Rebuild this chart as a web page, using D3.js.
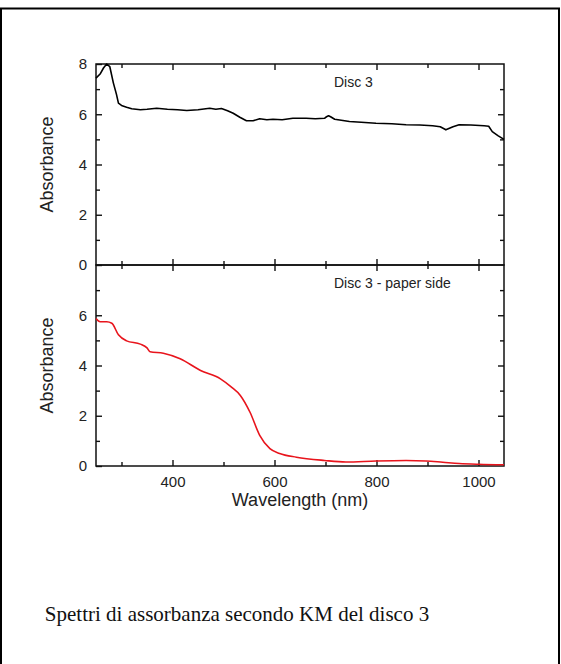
<!DOCTYPE html>
<html>
<head>
<meta charset="utf-8">
<script src="https://cdn.jsdelivr.net/npm/d3@7"></script>
<style>
  body { margin: 0; background: #fff; }
  svg { display: block; }
</style>
</head>
<body>
<div id="chart"></div>
<script>
// Data
const discWl = [250, 258, 265, 271, 277, 284, 290, 294, 300, 310, 320, 337, 350, 369, 390, 410, 428, 450, 473, 485, 496, 508, 519, 532, 545, 558, 571, 585, 597, 615, 636, 662, 680, 698, 702, 706, 710, 718, 747, 770, 799, 830, 858, 885, 910, 925, 936, 950, 962, 985, 1011, 1020, 1027, 1038, 1050];
const discAbs = [7.44, 7.6, 7.85, 8.0, 7.9, 7.25, 6.8, 6.44, 6.35, 6.28, 6.22, 6.18, 6.2, 6.24, 6.2, 6.18, 6.15, 6.18, 6.24, 6.2, 6.23, 6.14, 6.04, 5.88, 5.74, 5.74, 5.82, 5.78, 5.8, 5.78, 5.84, 5.84, 5.82, 5.84, 5.9, 5.94, 5.9, 5.8, 5.71, 5.68, 5.64, 5.62, 5.58, 5.57, 5.54, 5.5, 5.38, 5.5, 5.58, 5.57, 5.54, 5.52, 5.31, 5.15, 5.0];

const paperWl = [250, 258, 271, 281, 294, 310, 337, 350, 356, 382, 415, 455, 494, 515, 533, 552, 571, 591, 610, 643, 698, 740, 799, 858, 897, 930, 962, 1000, 1050];
const paperAbs = [5.87, 5.74, 5.74, 5.68, 5.22, 4.98, 4.85, 4.7, 4.55, 4.49, 4.27, 3.8, 3.47, 3.15, 2.81, 2.14, 1.22, 0.69, 0.5, 0.35, 0.22, 0.16, 0.2, 0.22, 0.2, 0.15, 0.1, 0.07, 0.05];

const xMajor = [400, 600, 800, 1000];
const xMinor = [300, 500, 700, 900];
const yMajorTop = [0, 2, 4, 6, 8];
const yMajorBottom = [0, 2, 4, 6];
const yMinor = [1, 3, 5, 7];

const panels = [
  { label: "Disc 3", wl: discWl, abs: discAbs, color: "#000", yLabels: yMajorTop },
  { label: "Disc 3 - paper side", wl: paperWl, abs: paperAbs, color: "#e8141c", yLabels: yMajorBottom },
];

var W = 561, H = 664;
var left = 96, right = 504, top0 = 64, panelH = 201;
var sans = "'Liberation Sans', Arial, sans-serif";

var svg = d3.select("#chart").append("svg").attr("width", W).attr("height", H);

// outer frame
svg.append("rect")
  .attr("x", 1).attr("y", 8.5)
  .attr("width", 558).attr("height", 700)
  .attr("fill", "none").attr("stroke", "#000").attr("stroke-width", 2);

var x = d3.scaleLinear().domain([250, 1050]).range([left, right]);

function styleAxis(g) {
  g.select(".domain").remove();
  g.selectAll(".tick line").attr("stroke", "#111").attr("stroke-width", 1.4);
  g.selectAll("text").attr("fill", "#222")
    .style("font-family", sans)
    .style("font-size", "15px");
}

panels.forEach(function (p, i) {
  var y0 = top0 + i * panelH;
  var y = d3.scaleLinear().domain([0, 8]).range([y0 + panelH, y0]);
  var g = svg.append("g");

  // minor ticks
  g.append("g").attr("transform", `translate(${left},0)`)
    .call(d3.axisLeft(y).tickValues(yMinor).tickSize(-4).tickFormat("")).call(styleAxis);
  g.append("g").attr("transform", `translate(${right},0)`)
    .call(d3.axisRight(y).tickValues(yMinor).tickSize(-4).tickFormat("")).call(styleAxis);
  g.append("g").attr("transform", `translate(0,${y0})`)
    .call(d3.axisTop(x).tickValues(xMinor).tickSize(-4).tickFormat("")).call(styleAxis);
  g.append("g").attr("transform", `translate(0,${y0 + panelH})`)
    .call(d3.axisBottom(x).tickValues(xMinor).tickSize(-4).tickFormat("")).call(styleAxis);

  // major ticks
  g.append("g").attr("transform", `translate(${left},0)`)
    .call(d3.axisLeft(y).tickValues(p.yLabels).tickSize(-6).tickPadding(9).tickFormat(d3.format("d")))
    .call(styleAxis);
  g.append("g").attr("transform", `translate(${right},0)`)
    .call(d3.axisRight(y).tickValues([2, 4, 6]).tickSize(-6).tickFormat("")).call(styleAxis);
  g.append("g").attr("transform", `translate(0,${y0})`)
    .call(d3.axisTop(x).tickValues(xMajor).tickSize(-6).tickFormat("")).call(styleAxis);
  g.append("g").attr("transform", `translate(0,${y0 + panelH})`)
    .call(d3.axisBottom(x).tickValues(xMajor).tickSize(-6).tickPadding(10)
      .tickFormat(i === 1 ? d3.format("d") : ""))
    .call(styleAxis);

  // frame
  g.append("rect")
    .attr("x", left).attr("y", y0)
    .attr("width", right - left).attr("height", panelH)
    .attr("fill", "none").attr("stroke", "#111").attr("stroke-width", 1.5);

  // curve
  var pts = p.wl.map((w, k) => ({ w: w, a: p.abs[k] }));
  var line = d3.line().x((d) => x(d.w)).y((d) => y(d.a));
  if (i === 1) line.curve(d3.curveMonotoneX);
  g.append("path")
    .datum(pts)
    .attr("fill", "none")
    .attr("stroke", p.color)
    .attr("stroke-width", 1.6)
    .attr("stroke-linejoin", "round")
    .attr("d", line);

  // panel label
  g.append("text")
    .attr("x", 334).attr("y", y0 + 23)
    .style("font-family", sans)
    .style("font-size", "14px")
    .attr("fill", "#222")
    .text(p.label);

  // y title
  g.append("text")
    .attr("transform", `translate(53,${y0 + panelH / 2}) rotate(-90)`)
    .attr("text-anchor", "middle")
    .style("font-family", sans)
    .style("font-size", "18px")
    .attr("fill", "#222")
    .text("Absorbance");
});

// x title
svg.append("text")
  .attr("x", (left + right) / 2).attr("y", 506)
  .attr("text-anchor", "middle")
  .style("font-family", sans)
  .style("font-size", "18px")
  .attr("fill", "#222")
  .text("Wavelength (nm)");

// caption
svg.append("text")
  .attr("x", 237).attr("y", 621)
  .attr("text-anchor", "middle")
  .style("font-family", "'Liberation Serif', 'Times New Roman', serif")
  .style("font-size", "21px")
  .attr("fill", "#111")
  .text("Spettri di assorbanza secondo KM del disco 3");
</script>
</body>
</html>
